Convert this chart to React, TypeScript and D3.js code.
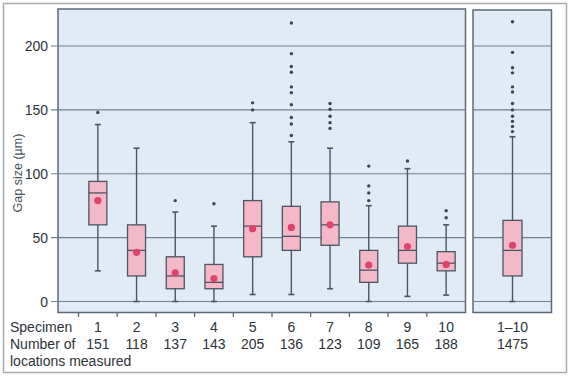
import React from 'react';
import * as d3 from 'd3';

const specimens = ['1', '2', '3', '4', '5', '6', '7', '8', '9', '10'];
const counts = [151, 118, 137, 143, 205, 136, 123, 109, 165, 188];
const q1 = [60, 20, 10, 10, 35, 40, 44, 15, 30, 24];
const medians = [85, 40, 20, 15, 59, 51, 60, 24.5, 40, 30];
const q3 = [94, 60, 35, 29, 79, 74.5, 78, 40, 59, 39];
const means = [79, 38.5, 22.5, 18, 57, 58, 60, 28.5, 43, 29];
const whiskLow = [24, 0, 0, 0, 5.5, 5.5, 10, 0, 4, 5];
const whiskHigh = [138.5, 120, 70, 59, 140, 125, 120, 75, 104, 60];
const outliers = [
  [148],
  [],
  [79],
  [76.5],
  [150, 155.5],
  [130, 139, 144, 154, 163.5, 168, 179.5, 184, 194, 218],
  [135.5, 140, 145, 150.5, 155],
  [79, 85, 90.5, 106],
  [110],
  [65.5, 71],
];

const allLabel = '1–10';
const allCount = 1475;
const allQ1 = 20;
const allMedian = 40;
const allQ3 = 63.5;
const allMean = 44;
const allLow = 0;
const allHigh = 129;
const allOutliers = [133, 137, 141, 145, 150, 155, 164, 168, 179, 183, 195, 219];

const yTicks = [0, 50, 100, 150, 200];

const FONT = '"Liberation Sans", Arial, Helvetica, sans-serif';
const PANEL = '#e0ebf5';
const GRID = '#6e8194';
const EDGE = '#5b6a79';
const BOXF = '#f5b8c8';
const BOXS = '#4b5663';
const MEAN = '#e0436d';
const DOT = '#3a4551';

export default function App() {
  const y = d3.scaleLinear().domain([0, 200]).range([301.5, 46]);
  const x = d3.scaleBand<string>().domain(specimens).range([78.5, 465.5]);
  const x2 = d3.scaleBand<string>().domain([allLabel]).range([473, 552]);
  const bw = 18;
  const cap = 6;

  const Box = (p: {
    cx: number; lo: number; q1: number; med: number; q3: number; hi: number; mean: number; out: number[]; w: number; k: string;
  }) => (
    <g key={p.k}>
      <line x1={p.cx} x2={p.cx} y1={y(p.lo)} y2={y(p.q1)} stroke={BOXS} strokeWidth={1.4} />
      <line x1={p.cx} x2={p.cx} y1={y(p.q3)} y2={y(p.hi)} stroke={BOXS} strokeWidth={1.4} />
      <line x1={p.cx - cap / 2} x2={p.cx + cap / 2} y1={y(p.lo)} y2={y(p.lo)} stroke={BOXS} strokeWidth={1.6} />
      <line x1={p.cx - cap / 2} x2={p.cx + cap / 2} y1={y(p.hi)} y2={y(p.hi)} stroke={BOXS} strokeWidth={1.6} />
      <rect x={p.cx - p.w / 2} y={y(p.q3)} width={p.w} height={y(p.q1) - y(p.q3)} fill={BOXF} stroke={BOXS} strokeWidth={1.3} />
      <line x1={p.cx - p.w / 2} x2={p.cx + p.w / 2} y1={y(p.med)} y2={y(p.med)} stroke={BOXS} strokeWidth={1.3} />
      <circle cx={p.cx} cy={y(p.mean)} r={3.6} fill={MEAN} />
      {p.out.map((o, i) => (
        <circle key={i} cx={p.cx} cy={y(o)} r={1.7} fill={DOT} />
      ))}
    </g>
  );

  return (
    <svg width={570} height={377} style={{ position: 'absolute', left: 0, top: 0 }} fontFamily={FONT}>
      <rect x={0} y={0} width={570} height={377} fill="#fff" />
      <rect x={3.5} y={3.5} width={563} height={369} fill="#fff" stroke="#a9adb1" strokeWidth={1.5} />
      <rect x={58} y={9} width={407.5} height={303.5} fill={PANEL} stroke={EDGE} strokeWidth={1.5} />
      <rect x={473} y={10} width={78.5} height={302.5} fill={PANEL} stroke={EDGE} strokeWidth={1.5} />
      {yTicks.map((t) => (
        <g key={t}>
          <line x1={51} x2={465.5} y1={y(t)} y2={y(t)} stroke={GRID} strokeWidth={1.2} />
          <line x1={473} x2={551.5} y1={y(t)} y2={y(t)} stroke={GRID} strokeWidth={1.2} />
          <text x={48} y={y(t)} dy="0.36em" textAnchor="end" fontSize={14} fill="#2d3339">
            {t}
          </text>
        </g>
      ))}
      {specimens.map((s) => (
        <line key={'t' + s} x1={x(s)!} x2={x(s)!} y1={312.5} y2={317} stroke={EDGE} strokeWidth={1.3} />
      ))}
      <text transform="translate(22,173) rotate(-90)" textAnchor="middle" fontSize={12.5} fill="#4a5058">
        Gap size (µm)
      </text>
      {specimens.map((s, i) =>
        Box({
          k: s,
          cx: x(s)! + x.bandwidth() / 2,
          lo: whiskLow[i],
          q1: q1[i],
          med: medians[i],
          q3: q3[i],
          hi: whiskHigh[i],
          mean: means[i],
          out: outliers[i],
          w: bw,
        })
      )}
      {Box({
        k: 'all',
        cx: x2(allLabel)! + x2.bandwidth() / 2,
        lo: allLow,
        q1: allQ1,
        med: allMedian,
        q3: allQ3,
        hi: allHigh,
        mean: allMean,
        out: allOutliers,
        w: 19,
      })}
      <g fontSize={14} fill="#2d3339">
        <text x={10} y={332}>Specimen</text>
        <text x={10} y={349}>Number of</text>
        <text x={10} y={366}>locations measured</text>
        {specimens.map((s, i) => (
          <g key={'l' + s}>
            <text x={x(s)! + x.bandwidth() / 2} y={332} textAnchor="middle">{s}</text>
            <text x={x(s)! + x.bandwidth() / 2} y={349} textAnchor="middle">{counts[i]}</text>
          </g>
        ))}
        <text x={x2(allLabel)! + x2.bandwidth() / 2} y={332} textAnchor="middle">{allLabel}</text>
        <text x={x2(allLabel)! + x2.bandwidth() / 2} y={349} textAnchor="middle">{allCount}</text>
      </g>
    </svg>
  );
}
